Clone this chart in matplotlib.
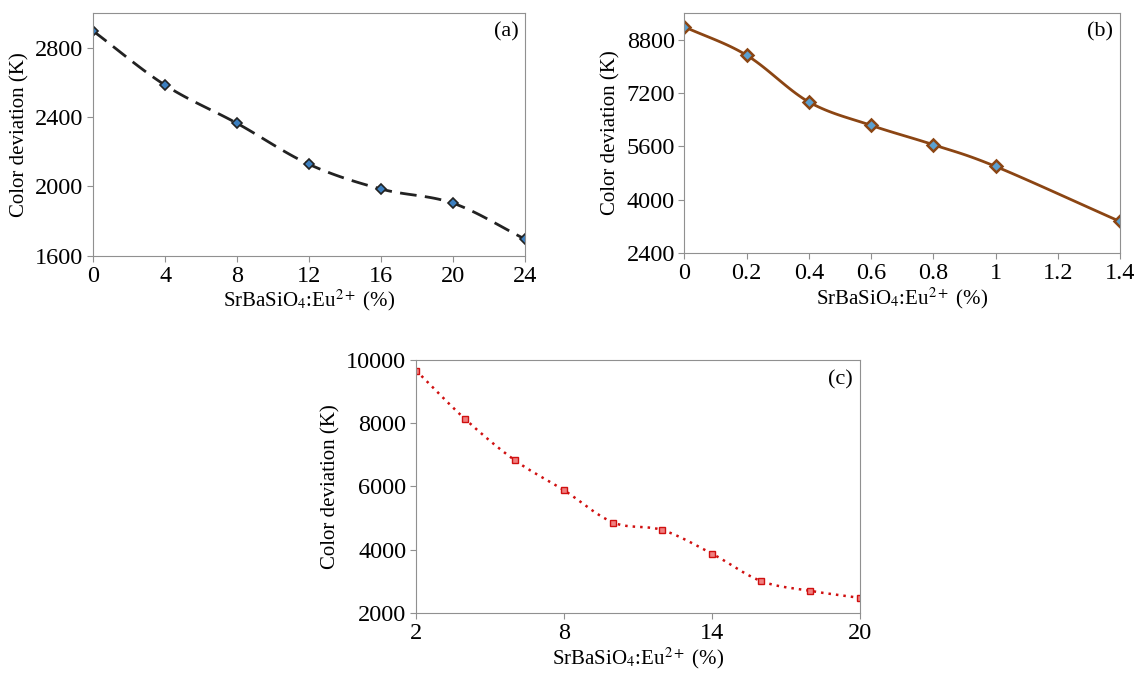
import numpy as np
import matplotlib
matplotlib.use('Agg')
import matplotlib.pyplot as plt

plt.rcParams['font.family'] = ['Liberation Serif', 'DejaVu Serif']
plt.rcParams['mathtext.fontset'] = 'stix'

# panel (a)
xa = [0, 4, 8, 12, 16, 20, 24]
ya = [2895, 2583, 2363, 2127, 1985, 1903, 1696]
# panel (b)
xb = [0, 0.2, 0.4, 0.6, 0.8, 1.0, 1.4]
yb = [9180, 8330, 6930, 6230, 5650, 5000, 3350]
# panel (c)
xc = [2, 4, 6, 8, 10, 12, 14, 16, 18, 20]
yc = [9660, 8120, 6830, 5880, 4860, 4620, 3880, 3010, 2700, 2480]

XLABEL = r'SrBaSiO$_4$:Eu$^{2+}$ (%)'
YLABEL = 'Color deviation (K)'


def smooth(x, y, n=20):
    # Catmull-Rom path through the points, like a spreadsheet "smoothed line"
    x = np.asarray(x, float)
    y = np.asarray(y, float)
    px = np.concatenate([[2 * x[0] - x[1]], x, [2 * x[-1] - x[-2]]])
    py = np.concatenate([[2 * y[0] - y[1]], y, [2 * y[-1] - y[-2]]])
    sx, sy = [], []
    t = np.linspace(0, 1, n)
    for i in range(1, len(px) - 2):
        for p, out in ((px, sx), (py, sy)):
            p0, p1, p2, p3 = p[i - 1], p[i], p[i + 1], p[i + 2]
            out.extend(0.5 * (2 * p1 + (-p0 + p2) * t
                              + (2 * p0 - 5 * p1 + 4 * p2 - p3) * t ** 2
                              + (-p0 + 3 * p1 - 3 * p2 + p3) * t ** 3))
    return sx, sy


def style(ax, tag):
    for s in ax.spines.values():
        s.set_color('#909090')
    ax.tick_params(direction='out', length=4, color='#909090', labelsize=17.5, pad=3)
    ax.set_xlabel(XLABEL, fontsize=15, labelpad=1)
    ax.set_ylabel(YLABEL, fontsize=15, labelpad=4)
    ax.text(0.985, 0.96, tag, transform=ax.transAxes, ha='right', va='top', fontsize=16)


fig = plt.figure(figsize=(11.37, 6.77), dpi=100)

ax = fig.add_axes([0.082, 0.622, 0.38, 0.359])
sx, sy = smooth(xa, ya)
ax.plot(sx, sy, color='#222222', lw=2, dashes=(6, 3))
ax.plot(xa, ya, 'D', ms=5.5, mfc='#3c7fc0', mec='#222222', mew=1.2)
ax.set_xlim(0, 24)
ax.set_ylim(1600, 3000)
ax.set_xticks(xa)
ax.set_yticks([1600, 2000, 2400, 2800])
style(ax, '(a)')

ax = fig.add_axes([0.602, 0.626, 0.383, 0.355])
sx, sy = smooth(xb, yb)
ax.plot(sx, sy, color='#8b4513', lw=2)
ax.plot(xb, yb, 'D', ms=6, mfc='#5aa0d0', mec='#8b4513', mew=1.8)
ax.set_xlim(0, 1.4)
ax.set_ylim(2400, 9600)
ax.set_xticks([0, 0.2, 0.4, 0.6, 0.8, 1, 1.2, 1.4])
ax.set_xticklabels(['0', '0.2', '0.4', '0.6', '0.8', '1', '1.2', '1.4'])
ax.set_yticks([2400, 4000, 5600, 7200, 8800])
style(ax, '(b)')

ax = fig.add_axes([0.366, 0.0945, 0.39, 0.374])
sx, sy = smooth(xc, yc)
ax.plot(sx, sy, color='#d01010', lw=1.8, linestyle=(0, (1, 2)))
ax.errorbar(xc, yc, yerr=60, fmt='s', ms=4, mfc='#f08080', mec='#d01010',
            ecolor='#d01010', elinewidth=1, capsize=2.5)
ax.set_xlim(2, 20)
ax.set_ylim(2000, 10000)
ax.set_xticks([2, 8, 14, 20])
ax.set_yticks([2000, 4000, 6000, 8000, 10000])
style(ax, '(c)')

fig.savefig('out.png', dpi=100)
